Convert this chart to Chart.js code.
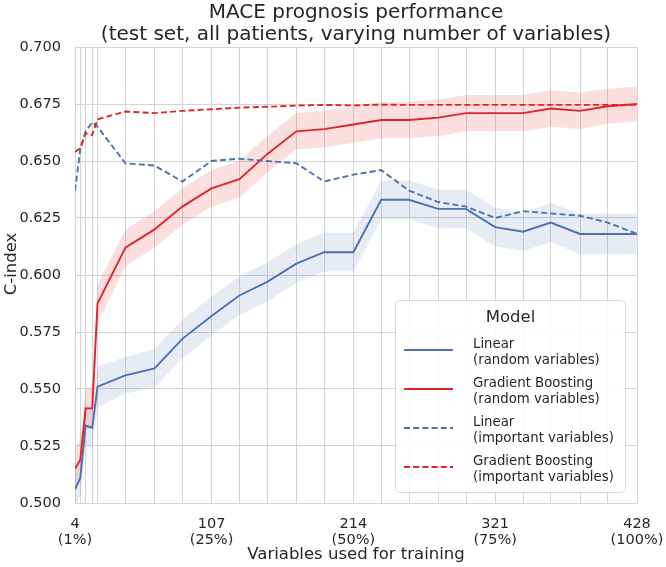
<!DOCTYPE html>
<html><head><meta charset="utf-8">
<script src="https://cdn.jsdelivr.net/npm/chart.js@4.4.0/dist/chart.umd.min.js"></script>
<style>
html,body{margin:0;padding:0;background:#fff;}
#wrap{position:relative;width:666px;height:567px;overflow:hidden;}
canvas{position:absolute;left:0;top:0;}
#legend{position:absolute;left:395px;top:300px;width:231px;height:193px;box-sizing:border-box;border:1px solid #d8d8d8;border-radius:5px;background:rgba(255,255,255,0.85);font-family:'DejaVu Sans',sans-serif;color:#262626;}
#legend .ttl{position:absolute;left:0;width:100%;top:6px;text-align:center;font-size:16.5px;line-height:20px;}
#legend .ent{position:absolute;left:77px;font-size:13.3px;line-height:15.6px;white-space:nowrap;}
#legend svg{position:absolute;left:8px;}
</style></head>
<body>
<div id="wrap">
<canvas id="c" width="666" height="567"></canvas>
<div id="legend">
  <div class="ttl">Model</div>
</div>
</div>
<script>
// ---- data ----
const xs = [4,8,12,17,21,42,64,85,107,128,149,171,192,214,235,256,278,299,321,342,363,385,406,428];
const linRand   = [0.506,0.511,0.534,0.533,0.551,0.556,0.559,0.572,0.582,0.591,0.597,0.605,0.610,0.610,0.633,0.633,0.629,0.629,0.621,0.619,0.623,0.618,0.618,0.618];
const linRandCI = [0.008,0.008,0.009,0.009,0.009,0.008,0.0085,0.0085,0.0085,0.0085,0.0085,0.0085,0.0085,0.0085,0.0085,0.0085,0.0085,0.0085,0.0085,0.0085,0.0085,0.009,0.009,0.009];
const gbRand    = [0.515,0.519,0.5415,0.5415,0.5875,0.612,0.620,0.630,0.638,0.642,0.653,0.663,0.664,0.666,0.668,0.668,0.669,0.671,0.671,0.671,0.673,0.672,0.674,0.675];
const gbRandCI  = [0.009,0.009,0.009,0.009,0.0085,0.008,0.008,0.008,0.008,0.008,0.008,0.008,0.008,0.008,0.008,0.008,0.008,0.008,0.008,0.008,0.008,0.008,0.0077,0.0077];
const linImp    = [0.637,0.655,0.663,0.667,0.665,0.649,0.648,0.641,0.650,0.651,0.650,0.649,0.641,0.644,0.646,0.637,0.632,0.630,0.625,0.628,0.627,0.626,0.623,0.618];
const gbImp     = [0.654,0.6556,0.6622,0.6614,0.6683,0.6717,0.671,0.672,0.6727,0.6734,0.6738,0.6743,0.6746,0.6744,0.6747,0.6746,0.6746,0.6746,0.6746,0.6746,0.6746,0.6746,0.6746,0.6746];
const xLabelValues   = [4,107,214,321,428];
const xLabelPercents = ['(1%)','(25%)','(50%)','(75%)','(100%)'];
const seriesNames = [['Linear','(random variables)'],['Gradient Boosting','(random variables)'],['Linear','(important variables)'],['Gradient Boosting','(important variables)']];
const titleLines = ['MACE prognosis performance','(test set, all patients, varying number of variables)'];
const xTitle = 'Variables used for training';
const yTitle = 'C-index';
const yMin = 0.5, yMax = 0.7, yStep = 0.025;

// ---- styles ----
const BLUE = '#4c72b0', RED = '#e0242a';
const BLUE_BAND = 'rgba(76,114,176,0.14)', RED_BAND = 'rgba(230,40,40,0.15)';
const GRID = '#d4d4d4', TXT = '#262626', FONT = "'DejaVu Sans', sans-serif";
const DASH = [6,3.2];
const lineStyles = [
  {color:BLUE, dash:[]}, {color:RED, dash:[]}, {color:BLUE, dash:DASH}, {color:RED, dash:DASH}
];

const pts = a => xs.map((x,i)=>({x:x, y:a[i]}));
const band = (a,ci,s) => xs.map((x,i)=>({x:x, y:a[i]+s*ci[i]}));
const bandDs = (d,fill,color) => ({data:d, borderWidth:0, pointRadius:0, fill:fill, backgroundColor:color, order:20, tension:0});
const lineDs = (d,st,ord) => ({data:d, borderColor:st.color, borderWidth:1.9, borderDash:st.dash, pointRadius:0, fill:false, order:ord, tension:0});

const datasets = [
  bandDs(band(linRand,linRandCI,-1), false, BLUE_BAND),
  bandDs(band(linRand,linRandCI, 1), '-1', BLUE_BAND),
  bandDs(band(gbRand,gbRandCI,-1), false, RED_BAND),
  bandDs(band(gbRand,gbRandCI, 1), '-1', RED_BAND),
  lineDs(pts(linRand), lineStyles[0], 4),
  lineDs(pts(gbRand),  lineStyles[1], 3),
  lineDs(pts(linImp),  lineStyles[2], 2),
  lineDs(pts(gbImp),   lineStyles[3], 1)
];

// Chart title (centred over the plot area) and y-axis title (slightly above axis centre)
const textPlugin = {
  id:'texts',
  afterDraw(chart){
    const ctx = chart.ctx, a = chart.chartArea;
    ctx.save();
    ctx.fillStyle = TXT; ctx.textAlign = 'center'; ctx.textBaseline = 'middle';
    ctx.font = "20px " + FONT;
    const cx = (a.left + a.right)/2;
    ctx.fillText(titleLines[0], cx, 12.5);
    ctx.fillText(titleLines[1], cx, 35);
    ctx.translate(12, (a.top+a.bottom)/2 - 11);
    ctx.rotate(-Math.PI/2);
    ctx.font = "16.5px " + FONT;
    ctx.fillText(yTitle, 0, 0);
    ctx.restore();
  }
};

new Chart(document.getElementById('c'), {
  type:'line',
  data:{datasets:datasets},
  plugins:[textPlugin],
  options:{
    responsive:false, animation:false, devicePixelRatio:1,
    layout:{padding:{left:0,right:29,top:47,bottom:2}},
    plugins:{ legend:{display:false}, tooltip:{enabled:false}, title:{display:false} },
    scales:{
      x:{type:'linear', min:4, max:428,
        afterBuildTicks:s=>{ s.ticks = xs.map(v=>({value:v})); },
        afterFit:s=>{ s.height = 62; s.paddingLeft = 0; s.paddingRight = 0; },
        grid:{color:GRID, lineWidth:1, drawTicks:false},
        border:{display:true, color:GRID},
        ticks:{autoSkip:false, maxRotation:0, minRotation:0, padding:13, color:TXT,
          font:{family:FONT,size:14.5,lineHeight:1.12},
          callback:v=>{ const k = xLabelValues.indexOf(v); return k>=0 ? [String(v), xLabelPercents[k]] : ''; }},
        title:{display:true, text:xTitle, color:TXT, font:{family:FONT,size:16.5,lineHeight:1.2}, padding:{top:0,bottom:0}}
      },
      y:{min:yMin, max:yMax,
        afterFit:s=>{ s.width = 75; },
        grid:{color:GRID, lineWidth:1, drawTicks:false},
        border:{display:true, color:GRID},
        ticks:{stepSize:yStep, padding:14, color:TXT, font:{family:FONT,size:14.5},
          callback:v=>Number(v).toFixed(3)},
        title:{display:false}
      }
    }
  }
});

// ---- legend (HTML text) ----
const lg = document.getElementById('legend');
const tops = [35,74,113,152];
seriesNames.forEach((nm,i)=>{
  const e = document.createElement('div');
  e.className = 'ent'; e.style.top = tops[i]+'px';
  e.innerHTML = nm[0] + '<br>' + nm[1];
  lg.appendChild(e);
  const st = lineStyles[i];
  const svgNS = 'http://www.w3.org/2000/svg';
  const sv = document.createElementNS(svgNS,'svg');
  sv.setAttribute('width','50'); sv.setAttribute('height','6');
  sv.style.top = (tops[i]+10.5)+'px';
  const ln = document.createElementNS(svgNS,'line');
  ln.setAttribute('x1','0'); ln.setAttribute('x2','49'); ln.setAttribute('y1','3'); ln.setAttribute('y2','3');
  ln.setAttribute('stroke', st.color); ln.setAttribute('stroke-width','1.9');
  if (st.dash.length) ln.setAttribute('stroke-dasharray', st.dash.join(' '));
  sv.appendChild(ln); lg.appendChild(sv);
});
</script>
</body></html>
